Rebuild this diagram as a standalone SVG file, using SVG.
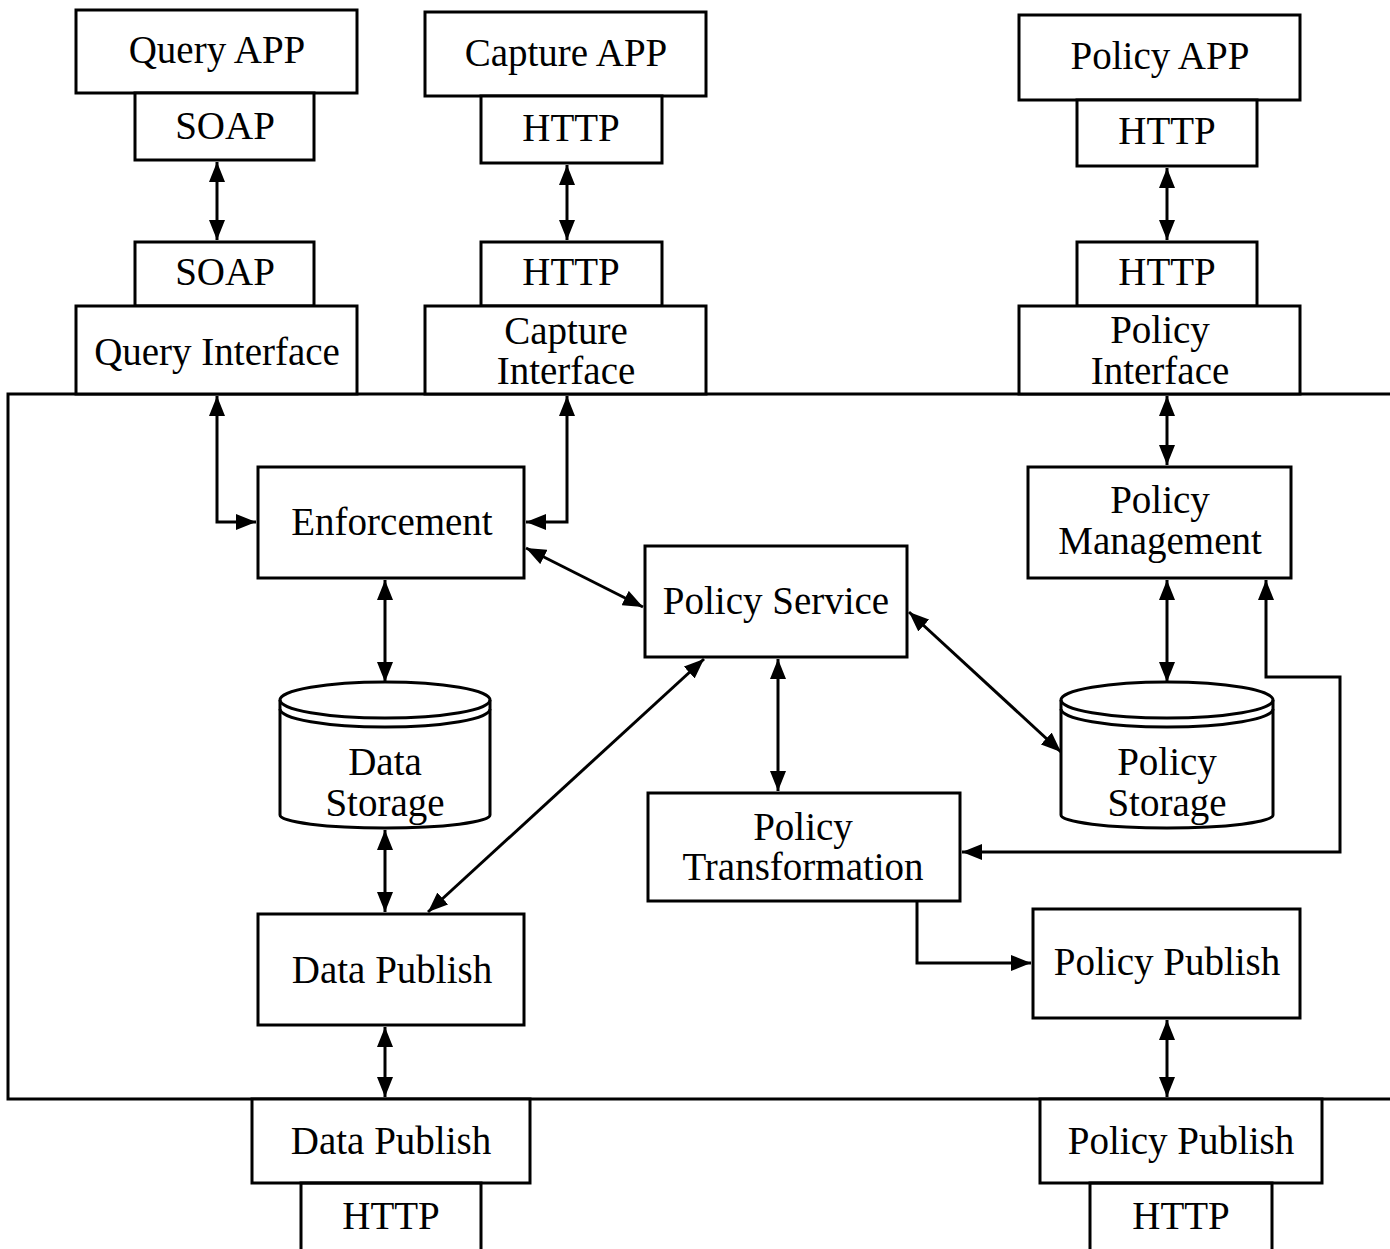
<svg xmlns="http://www.w3.org/2000/svg" width="1390" height="1249" viewBox="0 0 1390 1249">
<style>
.box{fill:#fff;stroke:#000;stroke-width:3}
.cyl{fill:#fff;stroke:#000;stroke-width:3}
.ln{fill:none;stroke:#000;stroke-width:3}
text{font-family:"Liberation Serif","Times New Roman",serif;font-size:39px;fill:#000;text-anchor:middle}
</style>
<defs>
<marker id="ah" markerUnits="userSpaceOnUse" markerWidth="20" markerHeight="16" refX="20" refY="8" orient="auto-start-reverse">
<path d="M0,0 L20,8 L0,16 z" fill="#000"/>
</marker>
</defs>
<rect width="1390" height="1249" fill="#fff"/>
<g id="system-boundary">
<path class="ln" d="M1392,394 H8 V1099 H1392"/>
</g>
<g id="query-app"><rect class="box" x="76" y="10" width="281" height="83"/><text x="217" y="63">Query APP</text></g>
<g id="query-app-soap"><rect class="box" x="135" y="93" width="179" height="67"/><text x="225" y="139">SOAP</text></g>
<g id="query-if-soap"><rect class="box" x="135" y="242" width="179" height="64"/><text x="225" y="285">SOAP</text></g>
<g id="query-interface"><rect class="box" x="76" y="306" width="281" height="88"/><text x="217" y="365">Query Interface</text></g>
<g id="capture-app"><rect class="box" x="425" y="12" width="281" height="84"/><text x="566" y="66">Capture APP</text></g>
<g id="capture-app-http"><rect class="box" x="481" y="96" width="181" height="67"/><text x="571" y="141">HTTP</text></g>
<g id="capture-if-http"><rect class="box" x="481" y="242" width="181" height="64"/><text x="571" y="285">HTTP</text></g>
<g id="capture-interface"><rect class="box" x="425" y="306" width="281" height="88"/><text x="566" y="344">Capture</text><text x="566" y="384">Interface</text></g>
<g id="policy-app"><rect class="box" x="1019" y="15" width="281" height="85"/><text x="1160" y="69">Policy APP</text></g>
<g id="policy-app-http"><rect class="box" x="1077" y="100" width="180" height="66"/><text x="1167" y="144">HTTP</text></g>
<g id="policy-if-http"><rect class="box" x="1077" y="242" width="180" height="64"/><text x="1167" y="285">HTTP</text></g>
<g id="policy-interface"><rect class="box" x="1019" y="306" width="281" height="88"/><text x="1160" y="343">Policy</text><text x="1160" y="384">Interface</text></g>
<g id="enforcement"><rect class="box" x="258" y="467" width="266" height="111"/><text x="392" y="535">Enforcement</text></g>
<g id="policy-service"><rect class="box" x="645" y="546" width="262" height="111"/><text x="776" y="614">Policy Service</text></g>
<g id="policy-management"><rect class="box" x="1028" y="467" width="263" height="111"/><text x="1160" y="513">Policy</text><text x="1160" y="554">Management</text></g>
<g id="data-storage">
<path class="cyl" d="M280,700 A105,18 0 0 1 490,700 V815 A105,13 0 0 1 280,815 Z"/>
<path class="ln" d="M280,700 A105,18 0 0 0 490,700"/>
<path class="ln" d="M280,709 A105,18 0 0 0 490,709"/>
<text x="385" y="775">Data</text><text x="385" y="816">Storage</text>
</g>
<g id="policy-storage">
<path class="cyl" d="M1061,700 A106,18 0 0 1 1273,700 V815 A106,13 0 0 1 1061,815 Z"/>
<path class="ln" d="M1061,700 A106,18 0 0 0 1273,700"/>
<path class="ln" d="M1061,709 A106,18 0 0 0 1273,709"/>
<text x="1167" y="775">Policy</text><text x="1167" y="816">Storage</text>
</g>
<g id="policy-transformation"><rect class="box" x="648" y="793" width="312" height="108"/><text x="803" y="840">Policy</text><text x="803" y="880">Transformation</text></g>
<g id="data-publish"><rect class="box" x="258" y="914" width="266" height="111"/><text x="392" y="983">Data Publish</text></g>
<g id="policy-publish"><rect class="box" x="1033" y="909" width="267" height="109"/><text x="1167" y="975">Policy Publish</text></g>
<g id="data-publish-ext"><rect class="box" x="252" y="1099" width="278" height="84"/><text x="391" y="1154">Data Publish</text></g>
<g id="data-publish-http"><path class="ln" d="M301,1251 V1183 H481 V1251"/><text x="391" y="1229">HTTP</text></g>
<g id="policy-publish-ext"><rect class="box" x="1040" y="1099" width="282" height="84"/><text x="1181" y="1154">Policy Publish</text></g>
<g id="policy-publish-http"><path class="ln" d="M1090,1251 V1183 H1272 V1251"/><text x="1181" y="1229">HTTP</text></g>
<g id="connectors" class="ln" marker-end="url(#ah)">
<path class="ln" d="M217,162 V240" marker-start="url(#ah)" marker-end="url(#ah)"/>
<path class="ln" d="M567,165 V240" marker-start="url(#ah)" marker-end="url(#ah)"/>
<path class="ln" d="M1167,168 V240" marker-start="url(#ah)" marker-end="url(#ah)"/>
<path class="ln" d="M217,396 V522 H256" marker-start="url(#ah)" marker-end="url(#ah)"/>
<path class="ln" d="M567,396 V522 H526" marker-start="url(#ah)" marker-end="url(#ah)"/>
<path class="ln" d="M1167,396 V465" marker-start="url(#ah)" marker-end="url(#ah)"/>
<path class="ln" d="M526,548 L643,607" marker-start="url(#ah)" marker-end="url(#ah)"/>
<path class="ln" d="M385,580 V682" marker-start="url(#ah)" marker-end="url(#ah)"/>
<path class="ln" d="M385,830 V912" marker-start="url(#ah)" marker-end="url(#ah)"/>
<path class="ln" d="M428,912 L704,659" marker-start="url(#ah)" marker-end="url(#ah)"/>
<path class="ln" d="M385,1027 V1097" marker-start="url(#ah)" marker-end="url(#ah)"/>
<path class="ln" d="M778,659 V791" marker-start="url(#ah)" marker-end="url(#ah)"/>
<path class="ln" d="M909,612 L1061,752" marker-start="url(#ah)" marker-end="url(#ah)"/>
<path class="ln" d="M1167,580 V682" marker-start="url(#ah)" marker-end="url(#ah)"/>
<path class="ln" d="M962,852 H1340 V677 H1266 V580" marker-start="url(#ah)" marker-end="url(#ah)"/>
<path class="ln" d="M917,901 V963 H1031" marker-end="url(#ah)"/>
<path class="ln" d="M1167,1020 V1097" marker-start="url(#ah)" marker-end="url(#ah)"/>
</g>
</svg>
